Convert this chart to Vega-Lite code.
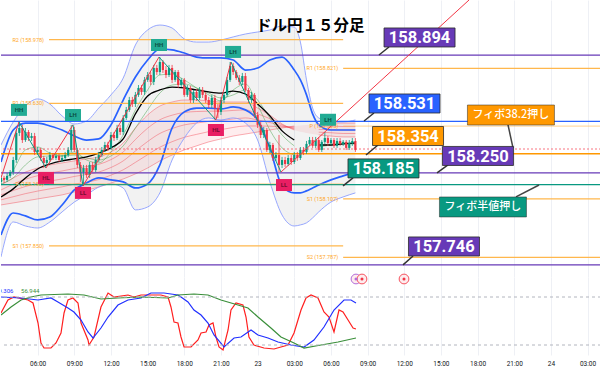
{
"$schema":"https://vega.github.io/schema/vega-lite/v6.json",
"padding":0,
"background":"white",
"spacing":0,
"bounds":"flush",
"config":{"view":{"stroke":null},"font":"Roboto"},
"resolve":{"scale":{"color":"independent"}},
"datasets":{
"candles":[
{"t":0,"o":158.200,"h":158.238,"l":158.183,"c":158.222},
{"t":0.25,"o":158.222,"h":158.233,"l":158.194,"c":158.211},
{"t":0.5,"o":158.211,"h":158.249,"l":158.200,"c":158.233},
{"t":0.75,"o":158.233,"h":158.265,"l":158.222,"c":158.254},
{"t":1,"o":158.254,"h":158.337,"l":158.238,"c":158.320},
{"t":1.25,"o":158.320,"h":158.484,"l":158.304,"c":158.468},
{"t":1.5,"o":158.468,"h":158.528,"l":158.451,"c":158.495},
{"t":1.75,"o":158.495,"h":158.512,"l":158.413,"c":158.429},
{"t":2,"o":158.429,"h":158.495,"l":158.419,"c":158.473},
{"t":2.25,"o":158.473,"h":158.484,"l":158.424,"c":158.440},
{"t":2.5,"o":158.440,"h":158.468,"l":158.424,"c":158.451},
{"t":2.75,"o":158.451,"h":158.468,"l":158.347,"c":158.364},
{"t":3,"o":158.364,"h":158.391,"l":158.347,"c":158.375},
{"t":3.25,"o":158.375,"h":158.386,"l":158.315,"c":158.331},
{"t":3.5,"o":158.331,"h":158.342,"l":158.276,"c":158.304},
{"t":3.75,"o":158.304,"h":158.337,"l":158.287,"c":158.320},
{"t":4,"o":158.320,"h":158.364,"l":158.309,"c":158.347},
{"t":4.25,"o":158.347,"h":158.358,"l":158.320,"c":158.331},
{"t":4.5,"o":158.331,"h":158.353,"l":158.320,"c":158.342},
{"t":4.75,"o":158.342,"h":158.353,"l":158.309,"c":158.320},
{"t":5,"o":158.320,"h":158.347,"l":158.309,"c":158.331},
{"t":5.25,"o":158.331,"h":158.364,"l":158.320,"c":158.347},
{"t":5.5,"o":158.347,"h":158.391,"l":158.337,"c":158.375},
{"t":5.75,"o":158.375,"h":158.512,"l":158.364,"c":158.484},
{"t":6,"o":158.484,"h":158.501,"l":158.364,"c":158.375},
{"t":6.25,"o":158.375,"h":158.386,"l":158.276,"c":158.293},
{"t":6.5,"o":158.293,"h":158.309,"l":158.200,"c":158.254},
{"t":6.75,"o":158.254,"h":158.293,"l":158.178,"c":158.276},
{"t":7,"o":158.276,"h":158.293,"l":158.222,"c":158.238},
{"t":7.25,"o":158.238,"h":158.309,"l":158.222,"c":158.293},
{"t":7.5,"o":158.293,"h":158.309,"l":158.254,"c":158.265},
{"t":7.75,"o":158.265,"h":158.337,"l":158.254,"c":158.320},
{"t":8,"o":158.320,"h":158.364,"l":158.309,"c":158.347},
{"t":8.25,"o":158.347,"h":158.391,"l":158.337,"c":158.375},
{"t":8.5,"o":158.375,"h":158.419,"l":158.364,"c":158.402},
{"t":8.75,"o":158.402,"h":158.419,"l":158.369,"c":158.386},
{"t":9,"o":158.386,"h":158.473,"l":158.375,"c":158.457},
{"t":9.25,"o":158.457,"h":158.473,"l":158.424,"c":158.440},
{"t":9.5,"o":158.440,"h":158.512,"l":158.429,"c":158.495},
{"t":9.75,"o":158.495,"h":158.512,"l":158.457,"c":158.473},
{"t":10,"o":158.473,"h":158.566,"l":158.457,"c":158.550},
{"t":10.25,"o":158.550,"h":158.610,"l":158.539,"c":158.594},
{"t":10.5,"o":158.594,"h":158.665,"l":158.583,"c":158.648},
{"t":10.75,"o":158.648,"h":158.665,"l":158.610,"c":158.626},
{"t":11,"o":158.626,"h":158.692,"l":158.610,"c":158.676},
{"t":11.25,"o":158.676,"h":158.730,"l":158.665,"c":158.714},
{"t":11.5,"o":158.714,"h":158.730,"l":158.676,"c":158.692},
{"t":11.75,"o":158.692,"h":158.774,"l":158.676,"c":158.758},
{"t":12,"o":158.758,"h":158.801,"l":158.747,"c":158.785},
{"t":12.25,"o":158.785,"h":158.801,"l":158.730,"c":158.747},
{"t":12.5,"o":158.747,"h":158.840,"l":158.730,"c":158.823},
{"t":12.75,"o":158.823,"h":158.840,"l":158.785,"c":158.801},
{"t":13,"o":158.801,"h":158.883,"l":158.785,"c":158.856},
{"t":13.25,"o":158.856,"h":158.867,"l":158.796,"c":158.812},
{"t":13.5,"o":158.812,"h":158.834,"l":158.768,"c":158.785},
{"t":13.75,"o":158.785,"h":158.840,"l":158.774,"c":158.823},
{"t":14,"o":158.823,"h":158.840,"l":158.741,"c":158.758},
{"t":14.25,"o":158.758,"h":158.812,"l":158.747,"c":158.801},
{"t":14.5,"o":158.801,"h":158.812,"l":158.714,"c":158.730},
{"t":14.75,"o":158.730,"h":158.768,"l":158.719,"c":158.758},
{"t":15,"o":158.758,"h":158.768,"l":158.665,"c":158.676},
{"t":15.25,"o":158.676,"h":158.730,"l":158.665,"c":158.714},
{"t":15.5,"o":158.714,"h":158.725,"l":158.632,"c":158.648},
{"t":15.75,"o":158.648,"h":158.703,"l":158.632,"c":158.692},
{"t":16,"o":158.692,"h":158.708,"l":158.643,"c":158.659},
{"t":16.25,"o":158.659,"h":158.719,"l":158.648,"c":158.703},
{"t":16.5,"o":158.703,"h":158.719,"l":158.659,"c":158.676},
{"t":16.75,"o":158.676,"h":158.692,"l":158.632,"c":158.648},
{"t":17,"o":158.648,"h":158.665,"l":158.604,"c":158.621},
{"t":17.25,"o":158.621,"h":158.676,"l":158.604,"c":158.659},
{"t":17.5,"o":158.659,"h":158.676,"l":158.539,"c":158.604},
{"t":17.75,"o":158.604,"h":158.626,"l":158.550,"c":158.583},
{"t":18,"o":158.583,"h":158.665,"l":158.566,"c":158.648},
{"t":18.25,"o":158.648,"h":158.692,"l":158.632,"c":158.676},
{"t":18.5,"o":158.676,"h":158.774,"l":158.665,"c":158.758},
{"t":18.75,"o":158.758,"h":158.856,"l":158.747,"c":158.834},
{"t":19,"o":158.834,"h":158.851,"l":158.785,"c":158.801},
{"t":19.25,"o":158.801,"h":158.812,"l":158.758,"c":158.768},
{"t":19.5,"o":158.768,"h":158.785,"l":158.730,"c":158.747},
{"t":19.75,"o":158.747,"h":158.796,"l":158.730,"c":158.779},
{"t":20,"o":158.779,"h":158.796,"l":158.692,"c":158.703},
{"t":20.25,"o":158.703,"h":158.714,"l":158.632,"c":158.648},
{"t":20.5,"o":158.648,"h":158.692,"l":158.632,"c":158.676},
{"t":20.75,"o":158.676,"h":158.686,"l":158.550,"c":158.566},
{"t":21,"o":158.566,"h":158.583,"l":158.495,"c":158.512},
{"t":21.25,"o":158.512,"h":158.528,"l":158.440,"c":158.457},
{"t":21.5,"o":158.457,"h":158.501,"l":158.440,"c":158.484},
{"t":21.75,"o":158.484,"h":158.495,"l":158.364,"c":158.375},
{"t":22,"o":158.375,"h":158.419,"l":158.358,"c":158.402},
{"t":22.25,"o":158.402,"h":158.413,"l":158.315,"c":158.331},
{"t":22.5,"o":158.331,"h":158.364,"l":158.315,"c":158.347},
{"t":22.75,"o":158.347,"h":158.457,"l":158.254,"c":158.293},
{"t":23,"o":158.293,"h":158.337,"l":158.276,"c":158.320},
{"t":23.25,"o":158.320,"h":158.337,"l":158.282,"c":158.298},
{"t":23.5,"o":158.298,"h":158.347,"l":158.287,"c":158.331},
{"t":23.75,"o":158.331,"h":158.347,"l":158.293,"c":158.309},
{"t":24,"o":158.309,"h":158.364,"l":158.298,"c":158.347},
{"t":24.25,"o":158.347,"h":158.364,"l":158.315,"c":158.331},
{"t":24.5,"o":158.331,"h":158.391,"l":158.320,"c":158.375},
{"t":24.75,"o":158.375,"h":158.391,"l":158.347,"c":158.364},
{"t":25,"o":158.364,"h":158.424,"l":158.353,"c":158.408},
{"t":25.25,"o":158.408,"h":158.446,"l":158.397,"c":158.429},
{"t":25.5,"o":158.429,"h":158.446,"l":158.386,"c":158.397},
{"t":25.75,"o":158.397,"h":158.446,"l":158.386,"c":158.429},
{"t":26,"o":158.429,"h":158.446,"l":158.364,"c":158.375},
{"t":26.25,"o":158.375,"h":158.429,"l":158.364,"c":158.419},
{"t":26.5,"o":158.419,"h":158.473,"l":158.408,"c":158.440},
{"t":26.75,"o":158.440,"h":158.451,"l":158.397,"c":158.413},
{"t":27,"o":158.413,"h":158.440,"l":158.402,"c":158.429},
{"t":27.25,"o":158.429,"h":158.440,"l":158.386,"c":158.397},
{"t":27.5,"o":158.397,"h":158.440,"l":158.386,"c":158.424},
{"t":27.75,"o":158.424,"h":158.440,"l":158.397,"c":158.408},
{"t":28,"o":158.408,"h":158.429,"l":158.397,"c":158.419},
{"t":28.25,"o":158.419,"h":158.429,"l":158.375,"c":158.386},
{"t":28.5,"o":158.386,"h":158.429,"l":158.375,"c":158.413},
{"t":28.75,"o":158.413,"h":158.440,"l":158.397,"c":158.424},
{"t":29,"o":158.424,"h":158.440,"l":158.364,"c":158.375}
],
"ind":[
{"t":0,"ou":158.402,"iu":158.309,"il":157.910,"ol":157.790,"ma":158.118,"rf":158.183,"ra":158.156,"rm":158.129,"rb":158.102,"rs":158.074,"g1":158.200,"g2":158.189},
{"t":1,"ou":158.528,"iu":158.484,"il":158.030,"ol":157.981,"ma":158.162,"rf":158.222,"ra":158.188,"rm":158.153,"rb":158.119,"rs":158.085,"g1":158.265,"g2":158.222},
{"t":2,"ou":158.615,"iu":158.522,"il":158.014,"ol":157.959,"ma":158.222,"rf":158.254,"ra":158.215,"rm":158.175,"rb":158.136,"rs":158.096,"g1":158.375,"g2":158.293},
{"t":3,"ou":158.654,"iu":158.522,"il":157.992,"ol":157.948,"ma":158.271,"rf":158.276,"ra":158.234,"rm":158.192,"rb":158.150,"rs":158.107,"g1":158.391,"g2":158.337},
{"t":4,"ou":158.626,"iu":158.506,"il":158.008,"ol":157.981,"ma":158.298,"rf":158.293,"ra":158.249,"rm":158.205,"rb":158.162,"rs":158.118,"g1":158.358,"g2":158.342},
{"t":5,"ou":158.561,"iu":158.484,"il":158.074,"ol":158.036,"ma":158.315,"rf":158.304,"ra":158.260,"rm":158.216,"rb":158.173,"rs":158.129,"g1":158.342,"g2":158.342},
{"t":6,"ou":158.517,"iu":158.451,"il":158.156,"ol":158.090,"ma":158.326,"rf":158.315,"ra":158.273,"rm":158.230,"rb":158.188,"rs":158.145,"g1":158.364,"g2":158.347},
{"t":7,"ou":158.533,"iu":158.429,"il":158.194,"ol":158.129,"ma":158.337,"rf":158.326,"ra":158.284,"rm":158.241,"rb":158.199,"rs":158.156,"g1":158.320,"g2":158.331},
{"t":8,"ou":158.604,"iu":158.435,"il":158.222,"ol":158.172,"ma":158.358,"rf":158.337,"ra":158.296,"rm":158.254,"rb":158.213,"rs":158.172,"g1":158.304,"g2":158.320},
{"t":9,"ou":158.676,"iu":158.512,"il":158.211,"ol":158.189,"ma":158.386,"rf":158.364,"ra":158.322,"rm":158.279,"rb":158.237,"rs":158.194,"g1":158.364,"g2":158.342},
{"t":10,"ou":158.768,"iu":158.648,"il":158.200,"ol":158.167,"ma":158.435,"rf":158.413,"ra":158.364,"rm":158.315,"rb":158.266,"rs":158.216,"g1":158.457,"g2":158.397},
{"t":11,"ou":158.949,"iu":158.774,"il":158.167,"ol":158.047,"ma":158.572,"rf":158.495,"ra":158.432,"rm":158.369,"rb":158.307,"rs":158.244,"g1":158.594,"g2":158.495},
{"t":12,"ou":159.031,"iu":158.867,"il":158.189,"ol":158.063,"ma":158.670,"rf":158.566,"ra":158.494,"rm":158.421,"rb":158.349,"rs":158.276,"g1":158.703,"g2":158.594},
{"t":13,"ou":159.058,"iu":158.927,"il":158.293,"ol":158.140,"ma":158.703,"rf":158.615,"ra":158.540,"rm":158.465,"rb":158.390,"rs":158.315,"g1":158.785,"g2":158.686},
{"t":14,"ou":159.042,"iu":158.922,"il":158.495,"ol":158.320,"ma":158.719,"rf":158.637,"ra":158.565,"rm":158.492,"rb":158.420,"rs":158.347,"g1":158.790,"g2":158.730},
{"t":15,"ou":158.982,"iu":158.905,"il":158.583,"ol":158.440,"ma":158.714,"rf":158.648,"ra":158.580,"rm":158.512,"rb":158.444,"rs":158.375,"g1":158.758,"g2":158.736},
{"t":16,"ou":158.965,"iu":158.883,"il":158.604,"ol":158.522,"ma":158.703,"rf":158.648,"ra":158.585,"rm":158.522,"rb":158.460,"rs":158.397,"g1":158.714,"g2":158.714},
{"t":17,"ou":158.965,"iu":158.878,"il":158.604,"ol":158.550,"ma":158.692,"rf":158.643,"ra":158.587,"rm":158.531,"rb":158.475,"rs":158.419,"g1":158.676,"g2":158.686},
{"t":18,"ou":158.976,"iu":158.878,"il":158.599,"ol":158.539,"ma":158.686,"rf":158.637,"ra":158.587,"rm":158.536,"rb":158.486,"rs":158.435,"g1":158.643,"g2":158.659},
{"t":19,"ou":158.993,"iu":158.867,"il":158.610,"ol":158.550,"ma":158.697,"rf":158.637,"ra":158.591,"rm":158.544,"rb":158.498,"rs":158.451,"g1":158.703,"g2":158.676},
{"t":20,"ou":159.009,"iu":158.812,"il":158.594,"ol":158.522,"ma":158.681,"rf":158.637,"ra":158.594,"rm":158.550,"rb":158.506,"rs":158.462,"g1":158.736,"g2":158.703},
{"t":21,"ou":159.020,"iu":158.823,"il":158.539,"ol":158.429,"ma":158.626,"rf":158.604,"ra":158.572,"rm":158.539,"rb":158.506,"rs":158.473,"g1":158.621,"g2":158.648},
{"t":22,"ou":159.031,"iu":158.867,"il":158.386,"ol":158.200,"ma":158.561,"rf":158.566,"ra":158.546,"rm":158.525,"rb":158.505,"rs":158.484,"g1":158.484,"g2":158.550},
{"t":23,"ou":159.053,"iu":158.883,"il":158.178,"ol":158.019,"ma":158.479,"rf":158.517,"ra":158.512,"rm":158.506,"rb":158.501,"rs":158.495,"g1":158.386,"g2":158.457},
{"t":24,"ou":159.047,"iu":158.812,"il":158.140,"ol":157.959,"ma":158.429,"rf":158.484,"ra":158.490,"rm":158.495,"rb":158.501,"rs":158.506,"g1":158.347,"g2":158.397},
{"t":24.5,"ou":158.965,"iu":158.758,"il":158.140,"ol":157.965},
{"t":25,"ou":158.758,"iu":158.676,"il":158.151,"ol":157.976,"ma":158.408,"rf":158.468,"ra":158.479,"rm":158.490,"rb":158.501,"rs":158.512,"g1":158.364,"g2":158.380},
{"t":25.5,"ou":158.604,"iu":158.572,"il":158.167,"ol":158.003},
{"t":26,"ou":158.550,"iu":158.512,"il":158.183,"ol":158.036,"ma":158.402,"rf":158.457,"ra":158.472,"rm":158.487,"rb":158.502,"rs":158.517,"g1":158.391,"g2":158.391},
{"t":27,"ou":158.528,"iu":158.484,"il":158.211,"ol":158.090,"ma":158.402,"rf":158.451,"ra":158.469,"rm":158.487,"rb":158.505,"rs":158.522,"g1":158.408,"g2":158.402},
{"t":28,"ou":158.528,"iu":158.484,"il":158.233,"ol":158.118,"ma":158.408,"rf":158.446,"ra":158.465,"rm":158.484,"rb":158.503,"rs":158.522,"g1":158.413,"g2":158.408},
{"t":29,"ou":158.539,"iu":158.484,"il":158.254,"ol":158.140,"ma":158.413,"rf":158.446,"ra":158.465,"rm":158.484,"rb":158.503,"rs":158.522,"g1":158.408,"g2":158.408}
],
"levels":[
{"p":158.894,"g":"purple"},
{"p":158.531,"g":"blue"},
{"p":158.354,"g":"orange"},
{"p":158.250,"g":"purple"},
{"p":158.185,"g":"green"},
{"p":157.746,"g":"purple"}
],
"pivots":[
{"lbl":"R2 (158.978)","t":3.93,"t2":28,"p":158.978,"k":"RS"},
{"lbl":"R1 (158.630)","t":3.93,"t2":28,"p":158.630,"k":"RS"},
{"lbl":"P (158.190)","t":3.93,"t2":28,"p":158.190,"k":"P"},
{"lbl":"S1 (157.850)","t":3.93,"t2":28,"p":157.850,"k":"RS"},
{"lbl":"R1 (158.821)","t":28,"t2":49.1,"p":158.821,"k":"RS"},
{"lbl":"P (158.505)","t":28,"t2":49.1,"p":158.505,"k":"P"},
{"lbl":"S1 (158.107)","t":28,"t2":49.1,"p":158.107,"k":"RS"},
{"lbl":"S2 (157.787)","t":28,"t2":49.1,"p":157.787,"k":"RS"}
],
"zig":[
{"seg":1,"d":"up","t":0,"p":158.222},{"seg":1,"d":"up","t":1.47,"p":158.528},
{"seg":2,"d":"dn","t":1.47,"p":158.528},{"seg":2,"d":"dn","t":3.68,"p":158.276},
{"seg":3,"d":"up","t":3.68,"p":158.276},{"seg":3,"d":"up","t":5.89,"p":158.512},
{"seg":4,"d":"dn","t":5.89,"p":158.512},{"seg":4,"d":"dn","t":6.71,"p":158.178},
{"seg":5,"d":"up","t":6.71,"p":158.178},{"seg":5,"d":"up","t":12.93,"p":158.883},
{"seg":6,"d":"dn","t":12.93,"p":158.883},{"seg":6,"d":"dn","t":17.59,"p":158.539},
{"seg":7,"d":"up","t":17.59,"p":158.539},{"seg":7,"d":"up","t":18.82,"p":158.856},
{"seg":8,"d":"dn","t":18.82,"p":158.856},{"seg":8,"d":"dn","t":22.91,"p":158.254},
{"seg":9,"d":"up","t":22.91,"p":158.254},{"seg":9,"d":"up","t":38.3,"p":159.195}
],
"swings":[
{"lbl":"HH","k":"hi","t":1.47,"p":158.594},
{"lbl":"HL","k":"lo","t":3.68,"p":158.222},
{"lbl":"LH","k":"hi","t":5.89,"p":158.566},
{"lbl":"LL","k":"lo","t":6.71,"p":158.140},
{"lbl":"HH","k":"hi","t":12.93,"p":158.949},
{"lbl":"HL","k":"lo","t":17.59,"p":158.484},
{"lbl":"LH","k":"hi","t":18.99,"p":158.911},
{"lbl":"LL","k":"lo","t":23.16,"p":158.183},
{"lbl":"LH","k":"hi","t":26.76,"p":158.540}
],
"callouts":[
{"lbl":"158.894","g":"purple","t":34.25,"p":158.990,"tb":31.75,"pb":158.938,"ta":30.93,"pa":158.894},
{"lbl":"158.531","g":"blue","t":33.02,"p":158.629,"tb":30.52,"pb":158.577,"ta":29.71,"pa":158.533},
{"lbl":"158.354","g":"orange","t":33.31,"p":158.451,"tb":30.85,"pb":158.402,"ta":29.87,"pa":158.347},
{"lbl":"158.185","g":"green","t":31.30,"p":158.274,"tb":28.81,"pb":158.222,"ta":27.99,"pa":158.178},
{"lbl":"158.250","g":"purple","t":39.03,"p":158.342,"tb":36.58,"pb":158.293,"ta":35.68,"pa":158.249},
{"lbl":"157.746","g":"purple","t":36.25,"p":157.847,"tb":33.72,"pb":157.795,"ta":32.90,"pa":157.746}
],
"jp":[
{"lbl":"フィボ38.2押し","g":"orange","t":41.73,"p":158.566,"tb":41.49,"pb":158.512,"ta":41.90,"pa":158.386},
{"lbl":"フィボ半値押し","g":"green","t":39.44,"p":158.063,"tb":42.14,"pb":158.118,"ta":44.03,"pa":158.183}
],
"osc":[
{"s":"fast","t":0,"v":60},{"s":"fast","t":0.57,"v":76.25},{"s":"fast","t":1.06,"v":80},{"s":"fast","t":2.21,"v":76.25},{"s":"fast","t":2.62,"v":72.5},{"s":"fast","t":3.03,"v":47.5},{"s":"fast","t":3.27,"v":22.5},{"s":"fast","t":3.52,"v":16.25},{"s":"fast","t":4.09,"v":16.25},{"s":"fast","t":4.5,"v":22.5},{"s":"fast","t":4.91,"v":35},{"s":"fast","t":5.16,"v":60},{"s":"fast","t":5.48,"v":76.25},{"s":"fast","t":5.89,"v":78.75},{"s":"fast","t":6.3,"v":72.5},{"s":"fast","t":6.55,"v":47.5},{"s":"fast","t":7.12,"v":26.25},{"s":"fast","t":7.2,"v":20},{"s":"fast","t":7.61,"v":30},{"s":"fast","t":8.18,"v":67.5},{"s":"fast","t":8.76,"v":85},{"s":"fast","t":9.25,"v":80},{"s":"fast","t":10.39,"v":82.5},{"s":"fast","t":10.88,"v":80},{"s":"fast","t":11.46,"v":82.5},{"s":"fast","t":12.03,"v":82.5},{"s":"fast","t":13.09,"v":82.5},{"s":"fast","t":13.67,"v":80},{"s":"fast","t":13.91,"v":67.5},{"s":"fast","t":14.16,"v":48.75},{"s":"fast","t":14.48,"v":47.5},{"s":"fast","t":14.73,"v":30},{"s":"fast","t":14.98,"v":17.5},{"s":"fast","t":15.55,"v":17.5},{"s":"fast","t":16.12,"v":26.25},{"s":"fast","t":16.37,"v":35},{"s":"fast","t":16.78,"v":36.25},{"s":"fast","t":17.02,"v":45},{"s":"fast","t":17.35,"v":47.5},{"s":"fast","t":17.59,"v":30},{"s":"fast","t":17.84,"v":17.5},{"s":"fast","t":18.17,"v":13.75},{"s":"fast","t":18.58,"v":38.75},{"s":"fast","t":18.82,"v":63.75},{"s":"fast","t":19.23,"v":72.5},{"s":"fast","t":19.8,"v":70},{"s":"fast","t":20.05,"v":55},{"s":"fast","t":20.29,"v":30},{"s":"fast","t":20.7,"v":20},{"s":"fast","t":21.52,"v":16.25},{"s":"fast","t":22.34,"v":15},{"s":"fast","t":22.91,"v":17.5},{"s":"fast","t":23.49,"v":20},{"s":"fast","t":23.98,"v":35},{"s":"fast","t":24.55,"v":63.75},{"s":"fast","t":24.96,"v":78.75},{"s":"fast","t":25.37,"v":82.5},{"s":"fast","t":25.94,"v":78.75},{"s":"fast","t":26.43,"v":61.25},{"s":"fast","t":26.84,"v":55},{"s":"fast","t":27.25,"v":36.25},{"s":"fast","t":27.66,"v":63.75},{"s":"fast","t":27.99,"v":61.25},{"s":"fast","t":28.4,"v":51.25},{"s":"fast","t":28.81,"v":41.25},{"s":"fast","t":29.05,"v":40},
{"s":"slow","t":0,"v":80},{"s":"slow","t":1.64,"v":78.75},{"s":"slow","t":3.03,"v":76.25},{"s":"slow","t":4.09,"v":78.75},{"s":"slow","t":4.66,"v":73.75},{"s":"slow","t":5.48,"v":66.25},{"s":"slow","t":5.97,"v":61.25},{"s":"slow","t":6.55,"v":51.25},{"s":"slow","t":7.12,"v":36.25},{"s":"slow","t":7.53,"v":28.75},{"s":"slow","t":8.18,"v":41.25},{"s":"slow","t":8.76,"v":55},{"s":"slow","t":9.57,"v":70},{"s":"slow","t":10.39,"v":76.25},{"s":"slow","t":11.46,"v":78.75},{"s":"slow","t":12.27,"v":85},{"s":"slow","t":13.34,"v":85},{"s":"slow","t":14.48,"v":82.5},{"s":"slow","t":14.73,"v":80},{"s":"slow","t":15.3,"v":73.75},{"s":"slow","t":15.79,"v":63.75},{"s":"slow","t":16.37,"v":57.5},{"s":"slow","t":16.94,"v":47.5},{"s":"slow","t":17.43,"v":32.5},{"s":"slow","t":18.25,"v":17.5},{"s":"slow","t":19.07,"v":28.75},{"s":"slow","t":19.64,"v":30},{"s":"slow","t":20.46,"v":38.75},{"s":"slow","t":21.03,"v":32.5},{"s":"slow","t":21.85,"v":28.75},{"s":"slow","t":22.67,"v":23.75},{"s":"slow","t":23.73,"v":20},{"s":"slow","t":24.8,"v":17.5},{"s":"slow","t":25.61,"v":26.25},{"s":"slow","t":26.43,"v":42.5},{"s":"slow","t":27.25,"v":63.75},{"s":"slow","t":28.07,"v":76.25},{"s":"slow","t":28.64,"v":76.25},{"s":"slow","t":29.05,"v":72.5},
{"s":"rsi","t":0,"v":57.5},{"s":"rsi","t":0.82,"v":67.5},{"s":"rsi","t":1.64,"v":76.25},{"s":"rsi","t":2.45,"v":80},{"s":"rsi","t":3.27,"v":82.5},{"s":"rsi","t":5.48,"v":83.75},{"s":"rsi","t":6.79,"v":82.5},{"s":"rsi","t":8.18,"v":77.5},{"s":"rsi","t":9.57,"v":78.75},{"s":"rsi","t":11.46,"v":80},{"s":"rsi","t":13.67,"v":78.75},{"s":"rsi","t":14.48,"v":82.5},{"s":"rsi","t":15.79,"v":83.75},{"s":"rsi","t":16.94,"v":82.5},{"s":"rsi","t":18.0,"v":76.25},{"s":"rsi","t":19.39,"v":70},{"s":"rsi","t":20.21,"v":66.25},{"s":"rsi","t":21.03,"v":55},{"s":"rsi","t":22.09,"v":41.25},{"s":"rsi","t":22.91,"v":30},{"s":"rsi","t":23.98,"v":22.5},{"s":"rsi","t":24.8,"v":16.25},{"s":"rsi","t":26.19,"v":20},{"s":"rsi","t":27.58,"v":23.75},{"s":"rsi","t":29.05,"v":28.75}
]
},
"vconcat":[
{
"width":600,"height":277,
"layer":[
{"data":{"name":"ind"},"mark":{"type":"area","color":"#808080","opacity":0.1,"clip":true,"interpolate":"monotone"},"encoding":{"x":{"field":"t","type":"quantitative","scale":{"domain":[0,49.1],"nice":false,"zero":false},"axis":{"values":[3,6,9,12,15,18,21,24,27,30,33,36,39,42,45,48],"grid":true,"gridColor":"#eef0f5","labels":false,"ticks":false,"domain":false,"title":null}},"y":{"field":"ou","type":"quantitative","scale":{"domain":[157.68,159.195],"nice":false,"zero":false},"axis":null},"y2":{"field":"ol"}}},
{"data":{"name":"ind"},"transform":[{"filter":"isValid(datum.rf)"}],"mark":{"type":"area","color":"#f23645","opacity":0.09,"clip":true,"interpolate":"monotone"},"encoding":{"x":{"field":"t","type":"quantitative","scale":{"domain":[0,49.1],"nice":false,"zero":false},"axis":{"values":[3,6,9,12,15,18,21,24,27,30,33,36,39,42,45,48],"grid":true,"gridColor":"#eef0f5","labels":false,"ticks":false,"domain":false,"title":null}},"y":{"field":"rf","type":"quantitative","scale":{"domain":[157.68,159.195],"nice":false,"zero":false},"axis":null},"y2":{"field":"rs"}}},
{"data":{"name":"ind"},"transform":[{"fold":["rf","ra","rm","rb","rs"],"as":["k","p"]}],"mark":{"type":"line","color":"#f23645","opacity":0.5,"strokeWidth":0.8,"clip":true,"interpolate":"monotone"},"encoding":{"x":{"field":"t","type":"quantitative","scale":{"domain":[0,49.1],"nice":false,"zero":false},"axis":{"values":[3,6,9,12,15,18,21,24,27,30,33,36,39,42,45,48],"grid":true,"gridColor":"#eef0f5","labels":false,"ticks":false,"domain":false,"title":null}},"y":{"field":"p","type":"quantitative","scale":{"domain":[157.68,159.195],"nice":false,"zero":false},"axis":null},"detail":{"field":"k"}}},
{"data":{"name":"ind"},"transform":[{"fold":["g1","g2"],"as":["k","p"]}],"mark":{"type":"line","color":"#43a047","opacity":0.6,"strokeWidth":0.8,"clip":true,"interpolate":"monotone"},"encoding":{"x":{"field":"t","type":"quantitative","scale":{"domain":[0,49.1],"nice":false,"zero":false},"axis":{"values":[3,6,9,12,15,18,21,24,27,30,33,36,39,42,45,48],"grid":true,"gridColor":"#eef0f5","labels":false,"ticks":false,"domain":false,"title":null}},"y":{"field":"p","type":"quantitative","scale":{"domain":[157.68,159.195],"nice":false,"zero":false},"axis":null},"detail":{"field":"k"}}},
{"data":{"name":"ind"},"transform":[{"fold":["ou","ol"],"as":["k","p"]}],"mark":{"type":"line","color":"#8c9eff","strokeWidth":0.9,"clip":true,"interpolate":"monotone"},"encoding":{"x":{"field":"t","type":"quantitative","scale":{"domain":[0,49.1],"nice":false,"zero":false},"axis":{"values":[3,6,9,12,15,18,21,24,27,30,33,36,39,42,45,48],"grid":true,"gridColor":"#eef0f5","labels":false,"ticks":false,"domain":false,"title":null}},"y":{"field":"p","type":"quantitative","scale":{"domain":[157.68,159.195],"nice":false,"zero":false},"axis":null},"detail":{"field":"k"}}},
{"data":{"name":"ind"},"mark":{"type":"line","color":"#000000","strokeWidth":1.3,"clip":true,"interpolate":"monotone"},"encoding":{"x":{"field":"t","type":"quantitative","scale":{"domain":[0,49.1],"nice":false,"zero":false},"axis":{"values":[3,6,9,12,15,18,21,24,27,30,33,36,39,42,45,48],"grid":true,"gridColor":"#eef0f5","labels":false,"ticks":false,"domain":false,"title":null}},"y":{"field":"ma","type":"quantitative","scale":{"domain":[157.68,159.195],"nice":false,"zero":false},"axis":null}}},
{"data":{"name":"ind"},"transform":[{"fold":["iu","il"],"as":["k","p"]}],"mark":{"type":"line","color":"#2962ff","strokeWidth":1.7,"clip":true,"interpolate":"monotone"},"encoding":{"x":{"field":"t","type":"quantitative","scale":{"domain":[0,49.1],"nice":false,"zero":false},"axis":{"values":[3,6,9,12,15,18,21,24,27,30,33,36,39,42,45,48],"grid":true,"gridColor":"#eef0f5","labels":false,"ticks":false,"domain":false,"title":null}},"y":{"field":"p","type":"quantitative","scale":{"domain":[157.68,159.195],"nice":false,"zero":false},"axis":null},"detail":{"field":"k"}}},
{"data":{"name":"levels"},"mark":{"type":"rule","strokeWidth":1.3},"encoding":{"y":{"field":"p","type":"quantitative","scale":{"domain":[157.68,159.195],"nice":false,"zero":false},"axis":null},"color":{"field":"g","type":"nominal","scale":{"domain":["purple","blue","orange","green","fibo","up","dn","hi","lo"],"range":["#673ab7","#2962ff","#ff9800","#089981","#f7525f","#f23645","#089981","#22ab94","#e91e63"]},"legend":null}}},
{"data":{"values":[{"p":158.380}]},"mark":{"type":"rule","strokeWidth":0.8,"color":"#f7525f","strokeDash":[2,2]},"encoding":{"y":{"field":"p","type":"quantitative","scale":{"domain":[157.68,159.195],"nice":false,"zero":false},"axis":null}}},
{"data":{"name":"pivots"},"mark":{"type":"rule","color":"#ffb74d","strokeWidth":1.2},"encoding":{"x":{"field":"t","type":"quantitative","scale":{"domain":[0,49.1],"nice":false,"zero":false},"axis":{"values":[3,6,9,12,15,18,21,24,27,30,33,36,39,42,45,48],"grid":true,"gridColor":"#eef0f5","labels":false,"ticks":false,"domain":false,"title":null}},"x2":{"field":"t2"},"y":{"field":"p","type":"quantitative","scale":{"domain":[157.68,159.195],"nice":false,"zero":false},"axis":null},"opacity":{"condition":{"test":"datum.k=='P'","value":0.5},"value":1}}},
{"data":{"name":"pivots"},"mark":{"type":"text","align":"right","dx":-5,"fontSize":5.5,"color":"#ffa726"},"encoding":{"x":{"field":"t","type":"quantitative","scale":{"domain":[0,49.1],"nice":false,"zero":false},"axis":{"values":[3,6,9,12,15,18,21,24,27,30,33,36,39,42,45,48],"grid":true,"gridColor":"#eef0f5","labels":false,"ticks":false,"domain":false,"title":null}},"y":{"field":"p","type":"quantitative","scale":{"domain":[157.68,159.195],"nice":false,"zero":false},"axis":null},"text":{"field":"lbl"}}},
{"data":{"name":"candles"},"mark":{"type":"rule","strokeWidth":0.8,"clip":true},"encoding":{"x":{"field":"t","type":"quantitative","scale":{"domain":[0,49.1],"nice":false,"zero":false},"axis":{"values":[3,6,9,12,15,18,21,24,27,30,33,36,39,42,45,48],"grid":true,"gridColor":"#eef0f5","labels":false,"ticks":false,"domain":false,"title":null}},"y":{"field":"l","type":"quantitative","scale":{"domain":[157.68,159.195],"nice":false,"zero":false},"axis":null},"y2":{"field":"h"},"color":{"condition":{"test":"datum.c>=datum.o","value":"#089981"},"value":"#f23645"}}},
{"data":{"name":"candles"},"mark":{"type":"rule","strokeWidth":2.2,"clip":true},"encoding":{"x":{"field":"t","type":"quantitative","scale":{"domain":[0,49.1],"nice":false,"zero":false},"axis":{"values":[3,6,9,12,15,18,21,24,27,30,33,36,39,42,45,48],"grid":true,"gridColor":"#eef0f5","labels":false,"ticks":false,"domain":false,"title":null}},"y":{"field":"o","type":"quantitative","scale":{"domain":[157.68,159.195],"nice":false,"zero":false},"axis":null},"y2":{"field":"c"},"color":{"condition":{"test":"datum.c>=datum.o","value":"#089981"},"value":"#f23645"}}},
{"data":{"name":"zig"},"mark":{"type":"line","strokeWidth":1,"clip":true},"encoding":{"x":{"field":"t","type":"quantitative","scale":{"domain":[0,49.1],"nice":false,"zero":false},"axis":{"values":[3,6,9,12,15,18,21,24,27,30,33,36,39,42,45,48],"grid":true,"gridColor":"#eef0f5","labels":false,"ticks":false,"domain":false,"title":null}},"y":{"field":"p","type":"quantitative","scale":{"domain":[157.68,159.195],"nice":false,"zero":false},"axis":null},"detail":{"field":"seg"},"color":{"field":"d","type":"nominal","scale":{"domain":["purple","blue","orange","green","fibo","up","dn","hi","lo"],"range":["#673ab7","#2962ff","#ff9800","#089981","#f7525f","#f23645","#089981","#22ab94","#e91e63"]},"legend":null}}},
{"data":{"name":"swings"},"mark":{"type":"point","filled":true,"opacity":1,"shape":"M-1,-0.75H1V0.75H-1Z","size":256},"encoding":{"x":{"field":"t","type":"quantitative","scale":{"domain":[0,49.1],"nice":false,"zero":false},"axis":{"values":[3,6,9,12,15,18,21,24,27,30,33,36,39,42,45,48],"grid":true,"gridColor":"#eef0f5","labels":false,"ticks":false,"domain":false,"title":null}},"y":{"field":"p","type":"quantitative","scale":{"domain":[157.68,159.195],"nice":false,"zero":false},"axis":null},"color":{"field":"k","type":"nominal","scale":{"domain":["purple","blue","orange","green","fibo","up","dn","hi","lo"],"range":["#673ab7","#2962ff","#ff9800","#089981","#f7525f","#f23645","#089981","#22ab94","#e91e63"]},"legend":null}}},
{"data":{"name":"swings"},"mark":{"type":"text","fontSize":6,"fontWeight":"bold"},"encoding":{"x":{"field":"t","type":"quantitative","scale":{"domain":[0,49.1],"nice":false,"zero":false},"axis":{"values":[3,6,9,12,15,18,21,24,27,30,33,36,39,42,45,48],"grid":true,"gridColor":"#eef0f5","labels":false,"ticks":false,"domain":false,"title":null}},"y":{"field":"p","type":"quantitative","scale":{"domain":[157.68,159.195],"nice":false,"zero":false},"axis":null},"text":{"field":"lbl"},"color":{"condition":{"test":"datum.k=='hi'","value":"#0b4f45"},"value":"#7a0c33"}}},
{"data":{"name":"callouts"},"mark":{"type":"rule","color":"#333333","strokeWidth":1.5},"encoding":{"x":{"field":"tb","type":"quantitative","scale":{"domain":[0,49.1],"nice":false,"zero":false},"axis":{"values":[3,6,9,12,15,18,21,24,27,30,33,36,39,42,45,48],"grid":true,"gridColor":"#eef0f5","labels":false,"ticks":false,"domain":false,"title":null}},"x2":{"field":"ta"},"y":{"field":"pb","type":"quantitative","scale":{"domain":[157.68,159.195],"nice":false,"zero":false},"axis":null},"y2":{"field":"pa"}}},
{"data":{"name":"jp"},"mark":{"type":"rule","color":"#444444","strokeWidth":1.5},"encoding":{"x":{"field":"tb","type":"quantitative","scale":{"domain":[0,49.1],"nice":false,"zero":false},"axis":{"values":[3,6,9,12,15,18,21,24,27,30,33,36,39,42,45,48],"grid":true,"gridColor":"#eef0f5","labels":false,"ticks":false,"domain":false,"title":null}},"x2":{"field":"ta"},"y":{"field":"pb","type":"quantitative","scale":{"domain":[157.68,159.195],"nice":false,"zero":false},"axis":null},"y2":{"field":"pa"}}},
{"data":{"name":"callouts"},"mark":{"type":"point","filled":true,"opacity":1,"shape":"M-1,-0.268H1V0.268H-1Z","size":5041,"stroke":"#2a2a2a","strokeWidth":1,"strokeOpacity":0.8},"encoding":{"x":{"field":"t","type":"quantitative","scale":{"domain":[0,49.1],"nice":false,"zero":false},"axis":{"values":[3,6,9,12,15,18,21,24,27,30,33,36,39,42,45,48],"grid":true,"gridColor":"#eef0f5","labels":false,"ticks":false,"domain":false,"title":null}},"y":{"field":"p","type":"quantitative","scale":{"domain":[157.68,159.195],"nice":false,"zero":false},"axis":null},"color":{"field":"g","type":"nominal","scale":{"domain":["purple","blue","orange","green","fibo","up","dn","hi","lo"],"range":["#673ab7","#2962ff","#ff9800","#089981","#f7525f","#f23645","#089981","#22ab94","#e91e63"]},"legend":null}}},
{"data":{"name":"callouts"},"mark":{"type":"text","font":"Roboto","fontSize":16.5,"fontWeight":"bold","color":"#ffffff","dy":1},"encoding":{"x":{"field":"t","type":"quantitative","scale":{"domain":[0,49.1],"nice":false,"zero":false},"axis":{"values":[3,6,9,12,15,18,21,24,27,30,33,36,39,42,45,48],"grid":true,"gridColor":"#eef0f5","labels":false,"ticks":false,"domain":false,"title":null}},"y":{"field":"p","type":"quantitative","scale":{"domain":[157.68,159.195],"nice":false,"zero":false},"axis":null},"text":{"field":"lbl"}}},
{"data":{"name":"jp"},"mark":{"type":"point","filled":true,"opacity":1,"shape":"M-1,-0.23H1V0.23H-1Z","size":7569,"stroke":"#2a2a2a","strokeWidth":1,"strokeOpacity":0.5},"encoding":{"x":{"field":"t","type":"quantitative","scale":{"domain":[0,49.1],"nice":false,"zero":false},"axis":{"values":[3,6,9,12,15,18,21,24,27,30,33,36,39,42,45,48],"grid":true,"gridColor":"#eef0f5","labels":false,"ticks":false,"domain":false,"title":null}},"y":{"field":"p","type":"quantitative","scale":{"domain":[157.68,159.195],"nice":false,"zero":false},"axis":null},"color":{"field":"g","type":"nominal","scale":{"domain":["purple","blue","orange","green","fibo","up","dn","hi","lo"],"range":["#673ab7","#2962ff","#ff9800","#089981","#f7525f","#f23645","#089981","#22ab94","#e91e63"]},"legend":null}}},
{"data":{"name":"jp"},"mark":{"type":"text","font":"Noto Sans CJK JP","fontSize":11,"fontWeight":500,"color":"#ffffff"},"encoding":{"x":{"field":"t","type":"quantitative","scale":{"domain":[0,49.1],"nice":false,"zero":false},"axis":{"values":[3,6,9,12,15,18,21,24,27,30,33,36,39,42,45,48],"grid":true,"gridColor":"#eef0f5","labels":false,"ticks":false,"domain":false,"title":null}},"y":{"field":"p","type":"quantitative","scale":{"domain":[157.68,159.195],"nice":false,"zero":false},"axis":null},"text":{"field":"lbl"}}},
{"data":{"values":[{"t":25.3,"p":159.053,"lbl":"ドル円１５分足"}]},"mark":{"type":"text","font":"Noto Sans CJK JP","fontSize":15.5,"fontWeight":"bold","color":"#000000"},"encoding":{"x":{"field":"t","type":"quantitative","scale":{"domain":[0,49.1],"nice":false,"zero":false},"axis":{"values":[3,6,9,12,15,18,21,24,27,30,33,36,39,42,45,48],"grid":true,"gridColor":"#eef0f5","labels":false,"ticks":false,"domain":false,"title":null}},"y":{"field":"p","type":"quantitative","scale":{"domain":[157.68,159.195],"nice":false,"zero":false},"axis":null},"text":{"field":"lbl"}}}
]
},
{
"width":600,"height":78,
"layer":[
{"data":{"name":"osc"},"mark":{"type":"line","strokeWidth":1.2,"clip":true},"encoding":{"x":{"field":"t","type":"quantitative","scale":{"domain":[0,49.1],"nice":false,"zero":false},"axis":{"values":[3,6,9,12,15,18,21,24,27,30,33,36,39,42,45,48],"grid":true,"gridColor":"#eef0f5","ticks":false,"domain":false,"title":null,"labelFontSize":6.5,"labelFont":"Roboto","labelColor":"#131722","labelPadding":5,"labelExpr":"((datum.value+3)%24==0) ? ''+((datum.value+3)/24+22) : ((((datum.value+3)%24)<10)?'0':'')+((datum.value+3)%24)+':00'"}},"y":{"field":"v","type":"quantitative","scale":{"domain":[7.5,105],"nice":false,"zero":false},"axis":null},"color":{"field":"s","type":"nominal","scale":{"domain":["fast","slow","rsi"],"range":["#ff1f1f","#2130ff","#3a8f3a"]},"legend":null}}},
{"data":{"values":[{"v":80},{"v":20}]},"mark":{"type":"rule","color":"#b2b5be","strokeDash":[3,3],"strokeWidth":1},"encoding":{"y":{"field":"v","type":"quantitative","scale":{"domain":[7.5,105],"nice":false,"zero":false},"axis":null}}},
{"data":{"values":[{"lbl":"59.306","s":"slow","t":-0.49},{"lbl":"56.944","s":"rsi","t":1.64}]},"mark":{"type":"text","align":"left","fontSize":6,"clip":true},"encoding":{"x":{"field":"t","type":"quantitative","scale":{"domain":[0,49.1],"nice":false,"zero":false},"axis":{"values":[3,6,9,12,15,18,21,24,27,30,33,36,39,42,45,48],"grid":true,"gridColor":"#eef0f5","ticks":false,"domain":false,"title":null,"labelFontSize":6.5,"labelFont":"Roboto","labelColor":"#131722","labelPadding":5,"labelExpr":"((datum.value+3)%24==0) ? ''+((datum.value+3)/24+22) : ((((datum.value+3)%24)<10)?'0':'')+((datum.value+3)%24)+':00'"}},"y":{"datum":87.5,"type":"quantitative","scale":{"domain":[7.5,105],"nice":false,"zero":false},"axis":null},"text":{"field":"lbl"},"color":{"condition":{"test":"datum.s=='slow'","value":"#2130ff"},"value":"#3a8f3a"}}},
{"data":{"values":[{"t":29.05,"k":"a"},{"t":29.54,"k":"b"},{"t":32.98,"k":"b"}]},"mark":{"type":"point","shape":"circle","size":95,"filled":false,"fill":"#fdecee","fillOpacity":1,"strokeWidth":1,"opacity":1},"encoding":{"x":{"field":"t","type":"quantitative","scale":{"domain":[0,49.1],"nice":false,"zero":false},"axis":{"values":[3,6,9,12,15,18,21,24,27,30,33,36,39,42,45,48],"grid":true,"gridColor":"#eef0f5","ticks":false,"domain":false,"title":null,"labelFontSize":6.5,"labelFont":"Roboto","labelColor":"#131722","labelPadding":5,"labelExpr":"((datum.value+3)%24==0) ? ''+((datum.value+3)/24+22) : ((((datum.value+3)%24)<10)?'0':'')+((datum.value+3)%24)+':00'"}},"y":{"datum":102.5,"type":"quantitative","scale":{"domain":[7.5,105],"nice":false,"zero":false},"axis":null},"stroke":{"condition":{"test":"datum.k=='a'","value":"#b36bd9"},"value":"#f7525f"}}},
{"data":{"values":[{"t":29.05,"k":"a"},{"t":29.54,"k":"b"},{"t":32.98,"k":"b"}]},"mark":{"type":"point","shape":"circle","size":9,"filled":true,"opacity":1},"encoding":{"x":{"field":"t","type":"quantitative","scale":{"domain":[0,49.1],"nice":false,"zero":false},"axis":{"values":[3,6,9,12,15,18,21,24,27,30,33,36,39,42,45,48],"grid":true,"gridColor":"#eef0f5","ticks":false,"domain":false,"title":null,"labelFontSize":6.5,"labelFont":"Roboto","labelColor":"#131722","labelPadding":5,"labelExpr":"((datum.value+3)%24==0) ? ''+((datum.value+3)/24+22) : ((((datum.value+3)%24)<10)?'0':'')+((datum.value+3)%24)+':00'"}},"y":{"datum":102.5,"type":"quantitative","scale":{"domain":[7.5,105],"nice":false,"zero":false},"axis":null},"color":{"condition":{"test":"datum.k=='a'","value":"#b36bd9"},"value":"#f23645"}}}
]
}
]
}
